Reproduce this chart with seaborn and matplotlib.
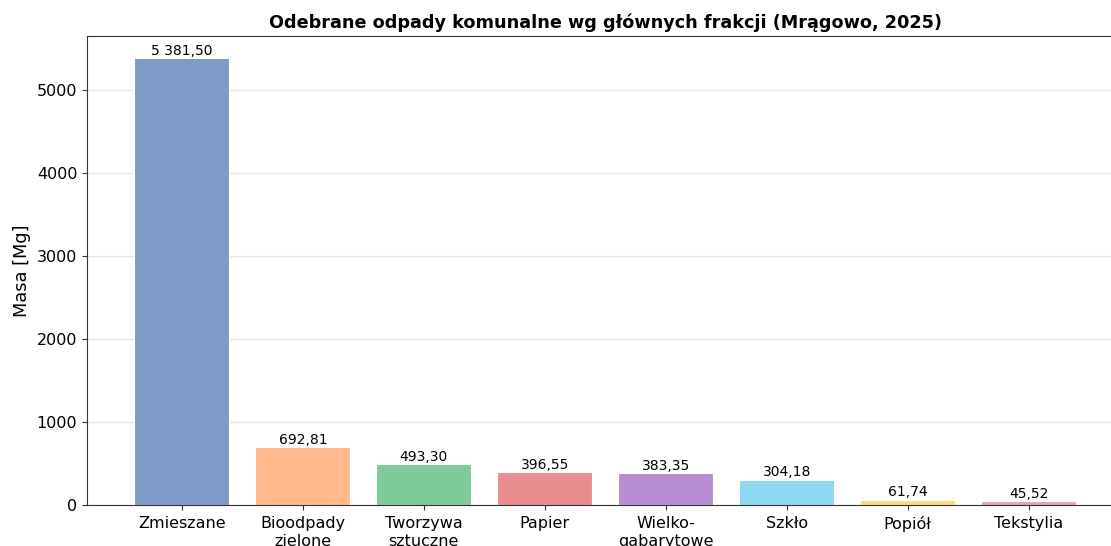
import numpy as np
import pandas as pd
import seaborn as sns
import matplotlib.pyplot as plt

categories = ["Zmieszane", "Bioodpady\nzielone", "Tworzywa\nsztuczne", "Papier",
              "Wielko-\ngabarytowe", "Szkło", "Popiół", "Tekstylia"]
masses = [5381.50, 692.81, 493.30, 396.55, 383.35, 304.18, 61.74, 45.52]
colors = ["#7E9BC7", "#FFB98A", "#7ECB98", "#E88D8D", "#B98DD3", "#8BD8F0", "#FBD97F", "#F19DBB"]

df = pd.DataFrame({"frakcja": categories, "masa": masses})

fig = plt.figure(figsize=(11.11, 5.46), dpi=100)
ax = fig.add_axes([0.0783, 0.0751, 0.933, 0.859])

sns.barplot(data=df, x="frakcja", y="masa", hue="frakcja", palette=colors,
            legend=False, width=0.785, saturation=1, edgecolor="white", linewidth=0.8, ax=ax)

ax.set_axisbelow(True)
ax.yaxis.grid(True, color="#e6e6e6", linewidth=1)
ax.set_xlim(-0.785, len(categories) - 1 + 0.785)
ax.set_ylim(0, max(masses) * 1.05)

for i, v in enumerate(masses):
    txt = f"{v:,.2f}".replace(",", " ").replace(".", ",")
    ax.text(i, v + 5, txt, ha="center", va="bottom", fontsize=10)

for s in ax.spines.values():
    s.set_color("#333333")

ax.set_title("Odebrane odpady komunalne wg głównych frakcji (Mrągowo, 2025)",
             fontsize=12.7, fontweight="bold")
ax.set_xlabel("")
ax.set_ylabel("Masa [Mg]", fontsize=12.8)
ax.tick_params(axis="both", labelsize=11.5, color="#333333")
ax.tick_params(axis="x", pad=4.5)

fig.savefig("out.png", dpi=100)
